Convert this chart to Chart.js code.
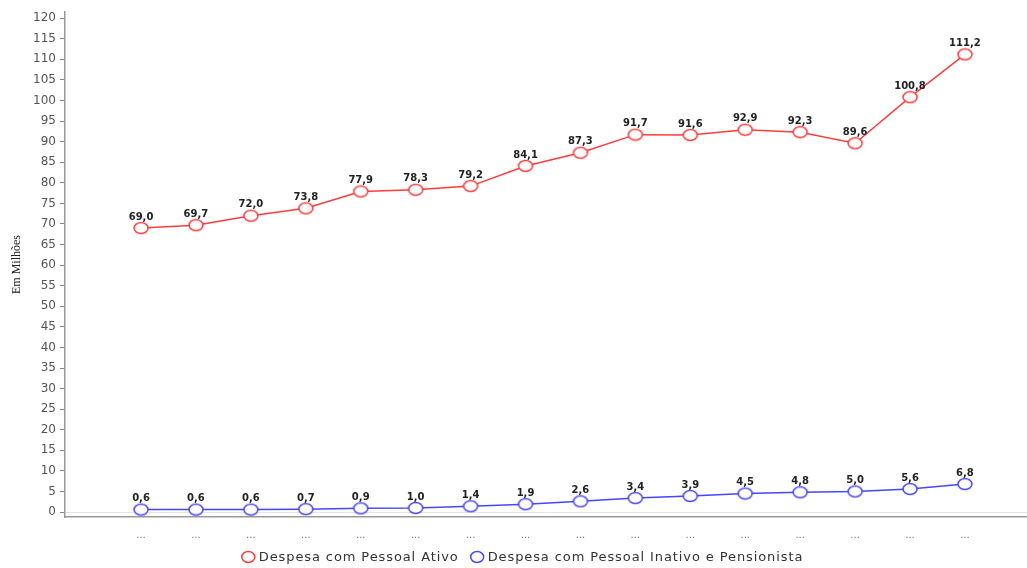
<!DOCTYPE html>
<html>
<head>
<meta charset="utf-8">
<script src="https://cdn.jsdelivr.net/npm/chart.js@4/dist/chart.umd.min.js"></script>
<style>
  html, body { margin: 0; padding: 0; background: #fff; overflow: hidden; }
  #wrap { width: 1027px; height: 568px; position: relative; }
</style>
</head>
<body>
<div id="wrap"><canvas id="c"></canvas></div>
<script>
// Periods (labels are abbreviated to "..." on the axis)
const periodos = ["...", "...", "...", "...", "...", "...", "...", "...",
                  "...", "...", "...", "...", "...", "...", "...", "..."];
// Despesa com Pessoal Ativo (Em Milhões)
const pessoalAtivo = [69.0, 69.7, 72.0, 73.8, 77.9, 78.3, 79.2, 84.1,
                      87.3, 91.7, 91.6, 92.9, 92.3, 89.6, 100.8, 111.2];
// Despesa com Pessoal Inativo e Pensionista (Em Milhões)
const pessoalInativo = [0.6, 0.6, 0.6, 0.7, 0.9, 1.0, 1.4, 1.9,
                        2.6, 3.4, 3.9, 4.5, 4.8, 5.0, 5.6, 6.8];
// Y axis tick values
const yTicks = [0, 5, 10, 15, 20, 25, 30, 35, 40, 45, 50, 55, 60,
                65, 70, 75, 80, 85, 90, 95, 100, 105, 110, 115, 120];

const RED = '#ff3c3c';
const BLUE = '#4646ff';

const toPoints = arr => arr.map((v, i) => ({ x: i, y: v }));
const fmt = v => v.toFixed(1).replace('.', ',');

// Hollow, slightly wide oval marker
function ovalMarker(color) {
  const c = document.createElement('canvas');
  c.width = 18; c.height = 14;
  const g = c.getContext('2d');
  g.beginPath();
  g.ellipse(9, 7, 7, 5.6, 0, 0, Math.PI * 2);
  g.fillStyle = '#fff';
  g.fill();
  g.lineWidth = 1.5;
  g.strokeStyle = color;
  g.stroke();
  return c;
}

// Writes the value above each point
const valueLabels = {
  id: 'valueLabels',
  afterDatasetsDraw(chart) {
    const ctx = chart.ctx;
    ctx.save();
    ctx.font = 'bold 10px "DejaVu Sans", sans-serif';
    ctx.fillStyle = '#222';
    ctx.textAlign = 'center';
    ctx.textBaseline = 'bottom';
    chart.data.datasets.forEach((ds, di) => {
      const meta = chart.getDatasetMeta(di);
      meta.data.forEach((pt, i) => {
        ctx.fillText(fmt(ds.data[i].y), pt.x, pt.y - 6);
      });
    });
    ctx.restore();
  }
};

// Bottom legend with hollow oval markers and spaced lettering
const bottomLegend = {
  id: 'bottomLegend',
  afterDraw(chart) {
    const ctx = chart.ctx;
    ctx.save();
    ctx.font = '13px "DejaVu Sans", sans-serif';
    ctx.letterSpacing = '0.9px';
    ctx.textBaseline = 'middle';
    ctx.textAlign = 'left';
    const r = 6.5, gapText = 4, gapItem = 12;
    const items = chart.data.datasets.map(ds => ({
      text: ds.label, color: ds.borderColor,
      w: ctx.measureText(ds.label).width
    }));
    const total = items.reduce((s, it) => s + 2 * r + gapText + it.w, 0) + gapItem * (items.length - 1);
    let x = chart.width / 2 + 9 - total / 2;
    const y = chart.height - 11;
    items.forEach(it => {
      ctx.beginPath();
      ctx.ellipse(x + r, y, r, 5.5, 0, 0, Math.PI * 2);
      ctx.fillStyle = '#fff';
      ctx.fill();
      ctx.lineWidth = 1.5;
      ctx.strokeStyle = it.color;
      ctx.stroke();
      x += 2 * r + gapText;
      ctx.fillStyle = '#333';
      ctx.fillText(it.text, x, y + 0.5);
      x += it.w + gapItem;
    });
    ctx.restore();
  }
};

new Chart(document.getElementById('c'), {
  type: 'line',
  data: {
    datasets: [
      {
        label: 'Despesa com Pessoal Ativo',
        data: toPoints(pessoalAtivo),
        borderColor: RED,
        borderWidth: 1.5,
        pointStyle: ovalMarker(RED),
        pointRadius: 7,
        pointHoverRadius: 7,
        tension: 0,
        clip: false
      },
      {
        label: 'Despesa com Pessoal Inativo e Pensionista',
        data: toPoints(pessoalInativo),
        borderColor: BLUE,
        borderWidth: 1.5,
        pointStyle: ovalMarker(BLUE),
        pointRadius: 7,
        pointHoverRadius: 7,
        tension: 0,
        clip: false
      }
    ]
  },
  options: {
    responsive: true,
    maintainAspectRatio: false,
    animation: false,
    layout: { autoPadding: false, padding: { top: 12, right: 0, left: 0, bottom: 21 } },
    plugins: {
      tooltip: { enabled: false },
      legend: { display: false }
    },
    scales: {
      x: {
        type: 'linear',
        min: -1.384,
        max: 16.13,
        afterBuildTicks(scale) {
          scale.ticks = periodos.map((_, i) => ({ value: i }));
        },
        afterFit(scale) {
          scale.height = 30;
          scale.paddingLeft = 0;
          scale.paddingRight = 0;
        },
        ticks: {
          autoSkip: false,
          maxRotation: 0,
          padding: 12,
          color: '#777',
          font: { family: '"DejaVu Sans", sans-serif', size: 10 },
          callback: (v) => periodos[v] ?? ''
        },
        grid: { display: false, drawTicks: false },
        border: { display: true, color: '#999', width: 1.5 }
      },
      y: {
        type: 'linear',
        min: -1.2,
        max: 121.5,
        afterBuildTicks(scale) {
          scale.ticks = yTicks.map(v => ({ value: v }));
        },
        afterFit(scale) { scale.width = 65; },
        ticks: {
          padding: 4,
          color: '#555',
          font: { family: '"DejaVu Sans", sans-serif', size: 12 },
          callback: (v) => String(v)
        },
        grid: {
          tickLength: 5,
          tickColor: '#888',
          color: (c) => (c.tick && c.tick.value === 0) ? '#e6e6e6' : 'rgba(0,0,0,0)'
        },
        border: { display: true, color: '#999', width: 1.5 },
        title: {
          display: true,
          text: 'Em Milhões',
          color: '#222',
          padding: { top: 10, bottom: 0 },
          font: { family: '"Liberation Serif", serif', size: 12 }
        }
      }
    }
  },
  plugins: [valueLabels, bottomLegend]
});
</script>
</body>
</html>
